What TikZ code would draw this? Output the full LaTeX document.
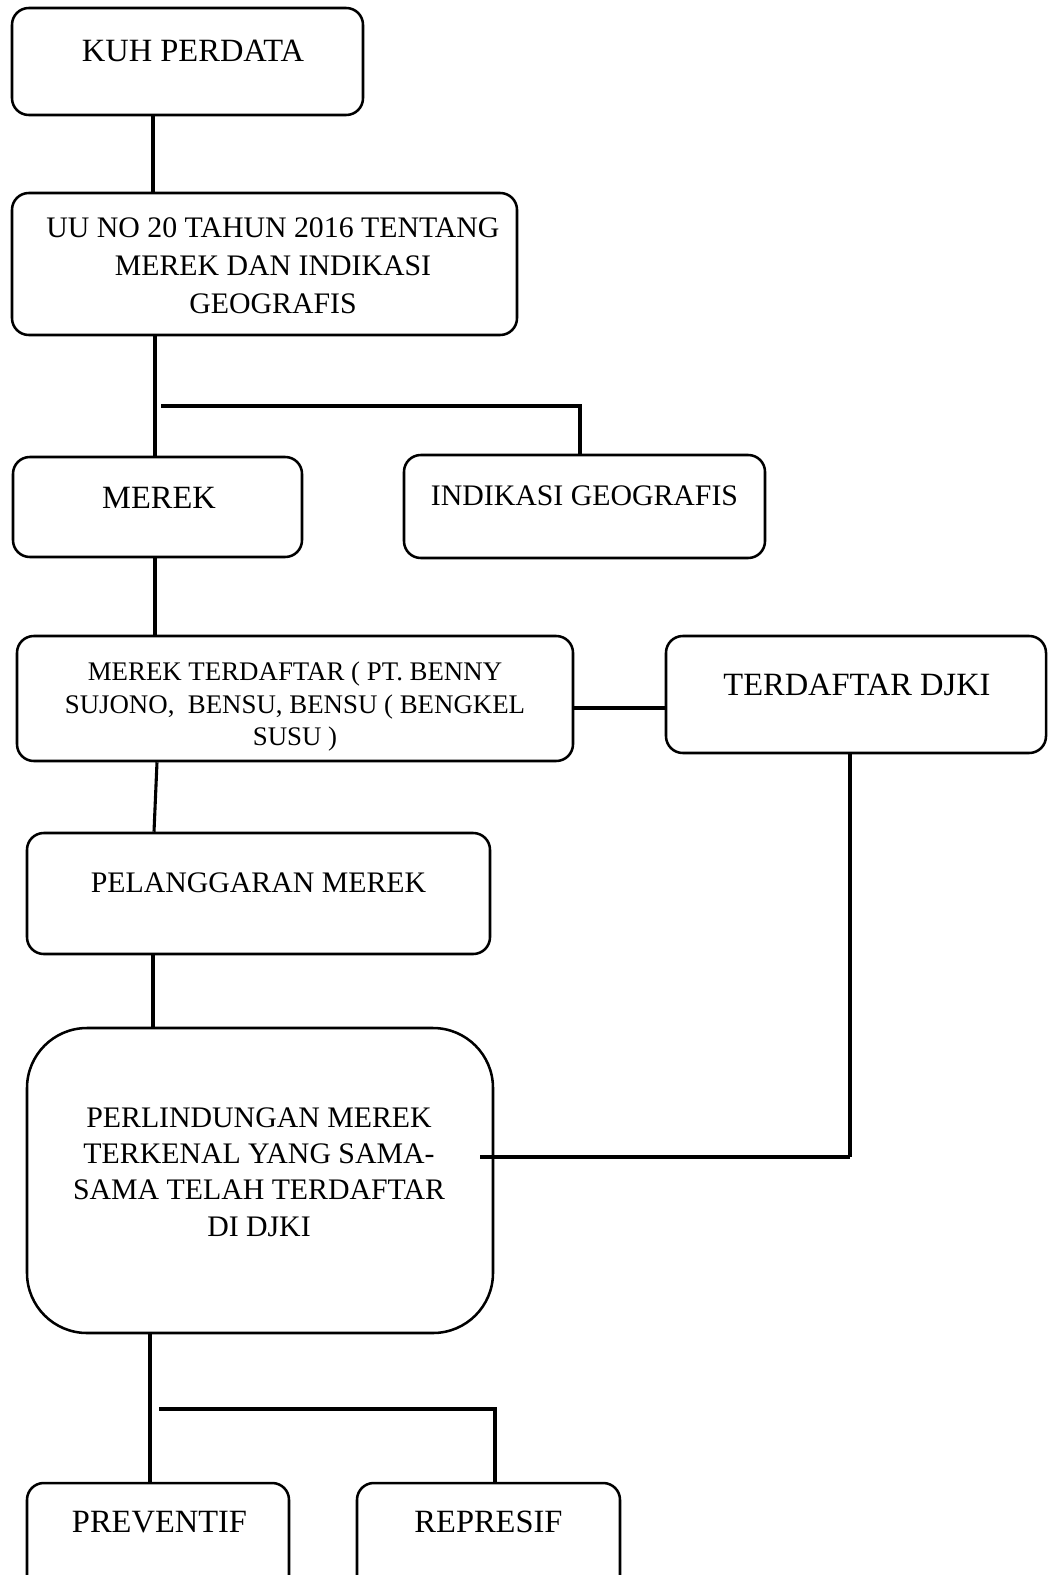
\documentclass[tikz,border=0pt]{standalone}
\usepackage{fontspec}
\setmainfont{Liberation Serif}
\usetikzlibrary{fit}

\begin{document}
\begin{tikzpicture}[x=0.025cm,y=-0.025cm,
box/.style={draw,line width=1.8pt,rounded corners=0.42cm,inner sep=0pt},
txtbig/.style={inner sep=0pt,font=\fontsize{23.1}{28}\selectfont},
txtmid/.style={inner sep=0pt,align=center,font=\fontsize{21.2}{27}\selectfont},
txtperl/.style={inner sep=0pt,align=center,font=\fontsize{21.2}{25.8}\selectfont},
txtsmall/.style={inner sep=0pt,align=center,font=\fontsize{19.1}{23.1}\selectfont},
link/.style={line width=2.2pt},
heavy/.style={line width=3pt}]
\useasboundingbox (0,0) rectangle (1048,1575);
\clip (0,0) rectangle (1048,1575);

\node[box,fit={(12,8) (363,115)}] (kuh) {};
\node[txtbig,anchor=base] (kuhlbl) at (193,62) {KUH PERDATA};
\node[box,fit={(12,193) (517,335)}] (uu) {};
\node[txtmid] (uulbl) at (273,266) {UU NO 20 TAHUN 2016 TENTANG\\MEREK DAN INDIKASI\\GEOGRAFIS};
\node[box,fit={(13,457) (302,557)}] (merek) {};
\node[txtbig,anchor=base] (mereklbl) at (159,508) {MEREK};
\node[box,fit={(404,455) (765,558)}] (ig) {};
\node[txtmid,anchor=base] (iglbl) at (584.5,505) {INDIKASI GEOGRAFIS};
\node[box,fit={(17,636) (573,761)}] (mt) {};
\node[txtsmall] (mtlbl) at (295,707) {MEREK TERDAFTAR ( PT. BENNY\\SUJONO, \ BENSU, BENSU ( BENGKEL\\SUSU )};
\node[box,fit={(666,636) (1046,753)}] (djki) {};
\node[txtbig,anchor=base] (djkilbl) at (857,695) {TERDAFTAR DJKI};
\node[box,fit={(27,833) (490,954)}] (pel) {};
\node[txtmid,anchor=base] (pellbl) at (258.5,892) {PELANGGARAN MEREK};
\node[box,rounded corners=1.5cm,fit={(27,1028) (493,1333)}] (perl) {};
\node[txtperl] (perllbl) at (259,1172) {PERLINDUNGAN MEREK\\TERKENAL YANG SAMA-\\SAMA TELAH TERDAFTAR\\DI DJKI};
\node[box,fit={(27,1483) (289,1620)}] (prev) {};
\node[txtbig,anchor=base] (prevlbl) at (159.5,1532) {PREVENTIF};
\node[box,fit={(357,1483) (620,1620)}] (rep) {};
\node[txtbig,anchor=base] (replbl) at (488.5,1532) {REPRESIF};

\coordinate (fork1) at (161,406);
\coordinate (turn) at (850,1157);
\coordinate (perlin) at (480,1157);
\coordinate (fork2) at (159,1409);

\draw[link] (153,0 |- kuh.south) -- (153,0 |- uu.north);
\draw[link] (155,0 |- uu.south) -- (155,0 |- merek.north);
\draw[heavy] (fork1) -- (580,406) -- (580,0 |- ig.north);
\draw[link] (155,0 |- merek.south) -- (155,0 |- mt.north);
\draw[heavy] (mt.east |- 0,708) -- (djki.west |- 0,708);
\draw[link] (157,0 |- mt.south) -- (154,0 |- pel.north);
\draw[link] (153,0 |- pel.south) -- (153,0 |- perl.north);
\draw[link] (djki.south -| turn) -- (turn);
\draw[heavy] (turn) -- (perlin);
\draw[link] (150,0 |- perl.south) -- (150,0 |- prev.north);
\draw[heavy] (fork2) -- (495,1409) -- (495,0 |- rep.north);

\end{tikzpicture}
\end{document}
